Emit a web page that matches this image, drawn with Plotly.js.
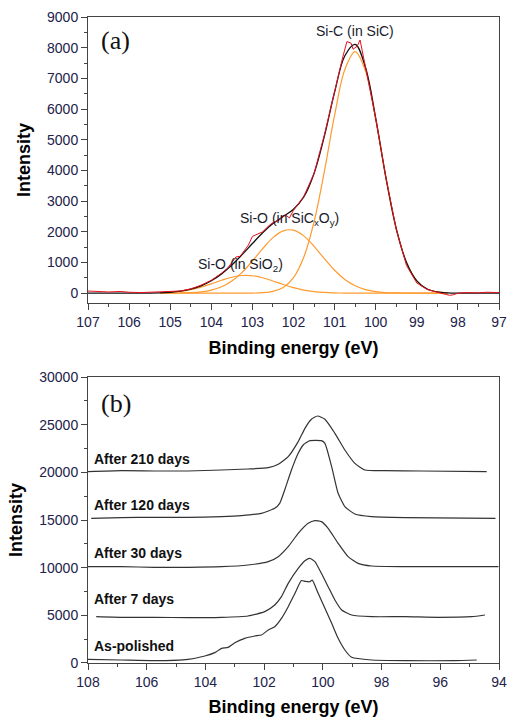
<!DOCTYPE html>
<html>
<head>
<meta charset="utf-8">
<script src="https://cdn.plot.ly/plotly-3.0.1.min.js"></script>
<style>html,body{margin:0;padding:0;background:#fff;}#chart{width:511px;height:717px;}</style>
</head>
<body>
<div id="chart"></div>
<script>
// ---- Panel (a): Si 2p fit ----
const xFit = [107,106.5,106,105.5,105.25,105,104.75,104.5,104.25,104,103.75,103.5,103.25,103,102.75,102.5,102.25,102,101.75,101.5,101.25,101,100.75,100.5,100.25,100,99.75,99.5,99.25,99,98.75,98.5,98.25,98,97.5,97];
const envelope = [0,0,0,4,11,30,66,131,240,404,629,916,1255,1617,1969,2267,2500,2737,3138,3902,5109,6556,7739,8110,7362,5705,3761,2105,1000,402,137,40,10,2,0,0];
const compSiC = [null,null,null,null,0,0,0,0,0,0,0,0,1,4,16,60,187,505,1169,2322,3961,5800,7291,7870,7246,5655,3741,2098,998,402,137,40,10,null,null,null];
const compSiCxOy = [null,null,null,null,0,2,6,16,42,99,208,396,679,1045,1450,1809,2031,2053,1867,1528,1125,746,445,239,116,50,20,7,2,0,0,0,0,null,null,null];
const compSiO2 = [null,null,null,null,11,28,60,115,198,305,421,520,575,568,503,398,282,179,102,52,23,10,3,1,0,0,0,0,0,0,0,0,0,null,null,null];
const xRaw = [107,106.8,106.5,106.2,106,105.7,105.5,105.25,105,104.75,104.5,104.25,104,103.75,103.6,103.5,103.4,103.3,103.2,103.1,103,102.9,102.75,102.6,102.5,102.35,102.2,102.1,102,101.75,101.5,101.25,101,100.8,100.7,100.6,100.55,100.45,100.38,100.3,100.25,100,99.75,99.5,99.25,99,98.75,98.5,98.3,98.2,98.1,98,97.8,97.5,97.3,97];
const rawData = [70,60,40,55,30,20,30,25,60,70,140,260,420,650,820,1000,1180,1200,1400,1560,1850,1900,2000,2200,2300,2380,2560,2450,2700,3150,3900,5150,6600,7700,8200,8150,7950,8050,8250,7700,7420,5700,3750,2080,900,330,120,20,-40,-70,-50,0,20,10,30,20];

// ---- Panel (b): ageing series ----
const x210 = [108,106.86,105.73,104.59,103.45,102.55,101.86,101.52,101.18,100.84,100.61,100.39,100.18,99.93,99.59,99.25,98.91,98.57,97.89,96.64,94.42];
const y210 = [20073,20178,20143,20143,20248,20353,20492,20842,21646,23220,24619,25563,25913,25563,24094,22346,20947,20248,20178,20143,20073];
const x120 = [107.89,106.86,105.73,104.59,103.45,102.77,102.09,101.64,101.47,101.3,101.07,100.84,100.67,100.44,100.05,99.93,99.7,99.48,99.25,98.91,98.34,97.2,94.12];
const y120 = [15177,15247,15282,15282,15352,15457,15702,16226,16751,18149,20248,21996,22870,23325,23325,23045,20597,17800,16401,15632,15352,15247,15177];
const x30 = [108,106.86,105.73,104.59,103.45,102.55,101.86,101.52,101.18,100.84,100.5,100.27,100.05,99.82,99.48,99.14,98.8,98.34,97.2,94.02];
const y30 = [10106,10106,10036,10036,10106,10281,10631,11155,12205,13603,14652,14932,14827,14128,12554,11155,10456,10176,10106,10106];
const x7 = [107.72,106.86,105.73,104.59,103.45,102.55,101.98,101.64,101.41,101.18,100.84,100.61,100.44,100.27,100.05,99.82,99.59,99.36,99.02,98.34,97.2,96.07,94.93,94.48];
const y7 = [4861,4791,4791,4756,4791,4931,5385,6085,6959,8358,9932,10736,10981,10631,9407,8008,6609,5560,5036,4861,4861,4791,4861,5036];
const xPol = [108,106.86,105.73,104.59,104.02,103.68,103.45,103.23,103,102.66,102.32,102.09,101.86,101.64,101.41,101.18,100.95,100.73,100.6,100.45,100.36,100.16,99.93,99.7,99.48,99.25,99.02,98.34,97.2,95.5,94.76];
const yPol = [385,315,245,385,734,1084,1539,1644,2133,2588,2833,2937,3462,3812,4686,5910,7309,8650,8560,8520,8700,7309,5735,4161,2588,1364,594,315,245,245,315];

const seriesLabels = ['After 210 days','After 120 days','After 30 days','After 7 days','As-polished'];

const orange = '#ff9a2e';
const fitLine = {shape:'spline', smoothing:1};
const traces = [
  {x:xFit, y:compSiCxOy, xaxis:'x', yaxis:'y', mode:'lines', line:Object.assign({color:orange,width:1.2},fitLine), hoverinfo:'none'},
  {x:xFit, y:compSiO2, xaxis:'x', yaxis:'y', mode:'lines', line:Object.assign({color:orange,width:1.2},fitLine), hoverinfo:'none'},
  {x:xFit, y:compSiC, xaxis:'x', yaxis:'y', mode:'lines', line:Object.assign({color:orange,width:1.2},fitLine), hoverinfo:'none'},
  {x:xFit, y:envelope, xaxis:'x', yaxis:'y', mode:'lines', line:Object.assign({color:'#111',width:1.3},fitLine), hoverinfo:'none'},
  {x:xRaw, y:rawData, xaxis:'x', yaxis:'y', mode:'lines', line:{color:'#e8101e',width:1}, hoverinfo:'none'}
];
const bx = [x210,x120,x30,x7,xPol], by = [y210,y120,y30,y7,yPol];
for (let i=0;i<5;i++){
  traces.push({x:bx[i], y:by[i], xaxis:'x2', yaxis:'y2', mode:'lines', name:seriesLabels[i], line:{color:'#333',width:1.2,shape:'spline',smoothing:0.5}, hoverinfo:'none'});
}

const tickFont = {family:'Liberation Sans, Arial, sans-serif', size:14, color:'#22224a'};
const titleFont = {family:'Liberation Sans, Arial, sans-serif', size:18, color:'#000', weight:'bold'};
function axis(extra){
  return Object.assign({
    showgrid:false, zeroline:false, showline:true, mirror:true, linecolor:'#444', linewidth:1,
    ticks:'outside', ticklen:6, tickwidth:1, tickcolor:'#444', tickfont:tickFont,
    exponentformat:'none', separatethousands:false, tickformat:'d', tickmode:'linear'
  }, extra);
}

const layout = {
  width:511, height:717,
  margin:{l:88, r:12, t:17, b:54},
  paper_bgcolor:'#fff', plot_bgcolor:'#fff',
  showlegend:false,
  xaxis: axis({anchor:'y', range:[107,97], tick0:97, dtick:1, minor:{dtick:0.5, ticklen:3, ticks:'outside', tickcolor:'#444'},
    title:{text:'<b>Binding energy (eV)</b>', font:titleFont, standoff:12}}),
  yaxis: axis({anchor:'x', domain:[0.5573,1], range:[-320,9000], tick0:0, dtick:1000, minor:{dtick:500, ticklen:3, ticks:'outside', tickcolor:'#444'},
    title:{text:'<b>Intensity</b>', font:titleFont, standoff:11}}),
  xaxis2: axis({anchor:'y2', range:[108,94], tick0:94, dtick:2, minor:{dtick:1, ticklen:3, ticks:'outside', tickcolor:'#444'},
    title:{text:'<b>Binding energy (eV)</b>', font:titleFont, standoff:12}}),
  yaxis2: axis({anchor:'x2', domain:[0,0.4427], range:[0,30000], tick0:0, dtick:5000, minor:{dtick:2500, ticklen:3, ticks:'outside', tickcolor:'#444'},
    title:{text:'<b>Intensity</b>', font:titleFont, standoff:11}}),
  annotations: [
    {xref:'x', yref:'y', x:106.33, y:8242, text:'(a)', showarrow:false, font:{family:'Liberation Serif, Times New Roman, serif', size:26, color:'#111'}},
    {xref:'x', yref:'y', x:100.51, y:8545, text:'Si-C (in SiC)', showarrow:false, font:{family:'Liberation Sans, Arial, sans-serif', size:14, color:'#1a1a2a'}},
    {xref:'x', yref:'y', x:102.09, y:2418, text:'Si-O (in SiC<sub>x</sub>O<sub>y</sub>)', showarrow:false, font:{family:'Liberation Sans, Arial, sans-serif', size:14, color:'#1a1a2a'}},
    {xref:'x', yref:'y', x:103.28, y:921, text:'Si-O (in SiO<sub>2</sub>)', showarrow:false, font:{family:'Liberation Sans, Arial, sans-serif', size:14, color:'#1a1a2a'}},
    {xref:'x2', yref:'y2', x:107.06, y:27274, text:'(b)', showarrow:false, font:{family:'Liberation Serif, Times New Roman, serif', size:26, color:'#111'}},
    {xref:'x2', yref:'y2', x:107.87, y:21400, xanchor:'left', text:'<b>'+seriesLabels[0]+'</b>', showarrow:false, font:{family:'Liberation Sans, Arial, sans-serif', size:14, color:'#111'}},
    {xref:'x2', yref:'y2', x:107.87, y:16574, xanchor:'left', text:'<b>'+seriesLabels[1]+'</b>', showarrow:false, font:{family:'Liberation Sans, Arial, sans-serif', size:14, color:'#111'}},
    {xref:'x2', yref:'y2', x:107.87, y:11570, xanchor:'left', text:'<b>'+seriesLabels[2]+'</b>', showarrow:false, font:{family:'Liberation Sans, Arial, sans-serif', size:14, color:'#111'}},
    {xref:'x2', yref:'y2', x:107.87, y:6682, xanchor:'left', text:'<b>'+seriesLabels[3]+'</b>', showarrow:false, font:{family:'Liberation Sans, Arial, sans-serif', size:14, color:'#111'}},
    {xref:'x2', yref:'y2', x:107.87, y:1783, xanchor:'left', text:'<b>'+seriesLabels[4]+'</b>', showarrow:false, font:{family:'Liberation Sans, Arial, sans-serif', size:14, color:'#111'}}
  ]
};

Plotly.newPlot('chart', traces, layout, {staticPlot:true, displayModeBar:false});
</script>
</body>
</html>
